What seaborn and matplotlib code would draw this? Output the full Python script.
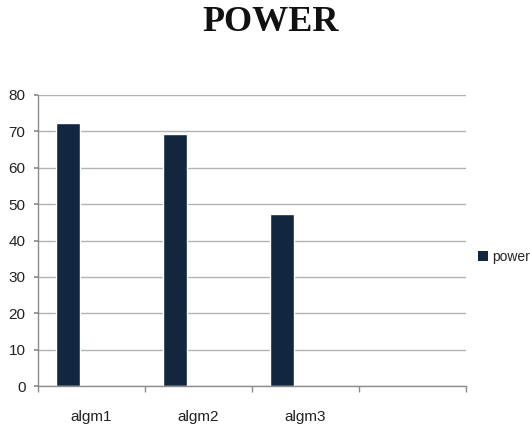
import matplotlib
matplotlib.use("Agg")
import matplotlib.pyplot as plt
import seaborn as sns
import pandas as pd
import numpy as np
from matplotlib.patches import Patch
from matplotlib.ticker import FixedLocator

categories = ["algm1", "algm2", "algm3", ""]
power = [72.3, 69.2, 47.3]
series = ["power", "series2", "series3"]
yticks = [0, 10, 20, 30, 40, 50, 60, 70, 80]

bar_color = "#13263f"
grid_color = "#b3b3b3"
axis_color = "#8c8c8c"

df = pd.DataFrame({
    "category": categories[:len(power)],
    "value": power,
    "series": series[0],
})

sns.set_theme(style="white")
plt.rcParams["font.family"] = ["Liberation Sans Narrow", "Liberation Sans", "DejaVu Sans"]

fig = plt.figure(figsize=(5.30, 4.28), dpi=100)
ax = fig.add_axes([38 / 530, 42 / 428, 428 / 530, 291 / 428])

sns.barplot(
    data=df, x="category", y="value", hue="series",
    order=categories, hue_order=series,
    palette=[bar_color, "#4a7ebb", "#be4b48"],
    width=0.656, gap=0, dodge=True, legend=False, ax=ax,
    saturation=1, errorbar=None,
)

ax.set_xlim(-0.5, len(categories) - 0.5)
ax.set_ylim(0, 80)
ax.set_yticks(yticks)
ax.yaxis.grid(True, color=grid_color, linewidth=1)
ax.set_axisbelow(True)
ax.set_xlabel("")
ax.set_ylabel("")

for side in ("top", "right"):
    ax.spines[side].set_visible(False)
for side in ("left", "bottom"):
    ax.spines[side].set_color(axis_color)
    ax.spines[side].set_linewidth(1)

ax.xaxis.set_minor_locator(FixedLocator(np.arange(-0.5, len(categories), 1.0)))
ax.tick_params(axis="x", which="major", length=0, pad=17, labelsize=11, labelcolor="#222222")
ax.tick_params(axis="x", which="minor", bottom=True, length=4, color=axis_color, width=1)
ax.tick_params(axis="y", which="major", left=True, length=3, color=axis_color,
               pad=6, labelsize=11, labelcolor="#222222")

fig.suptitle("POWER", x=0.51, y=0.985, fontsize=26, fontweight="bold", color="#111111",
             family=["Liberation Serif", "DejaVu Serif"])

fig.legend(handles=[Patch(facecolor=bar_color, edgecolor="none", label="power")],
           loc="center left", bbox_to_anchor=(478 / 530, 1 - 257 / 428),
           frameon=False, fontsize=10, handlelength=0.75, handleheight=0.75,
           handletextpad=0.25, borderaxespad=0, borderpad=0)

fig.savefig("out.png", dpi=100)
